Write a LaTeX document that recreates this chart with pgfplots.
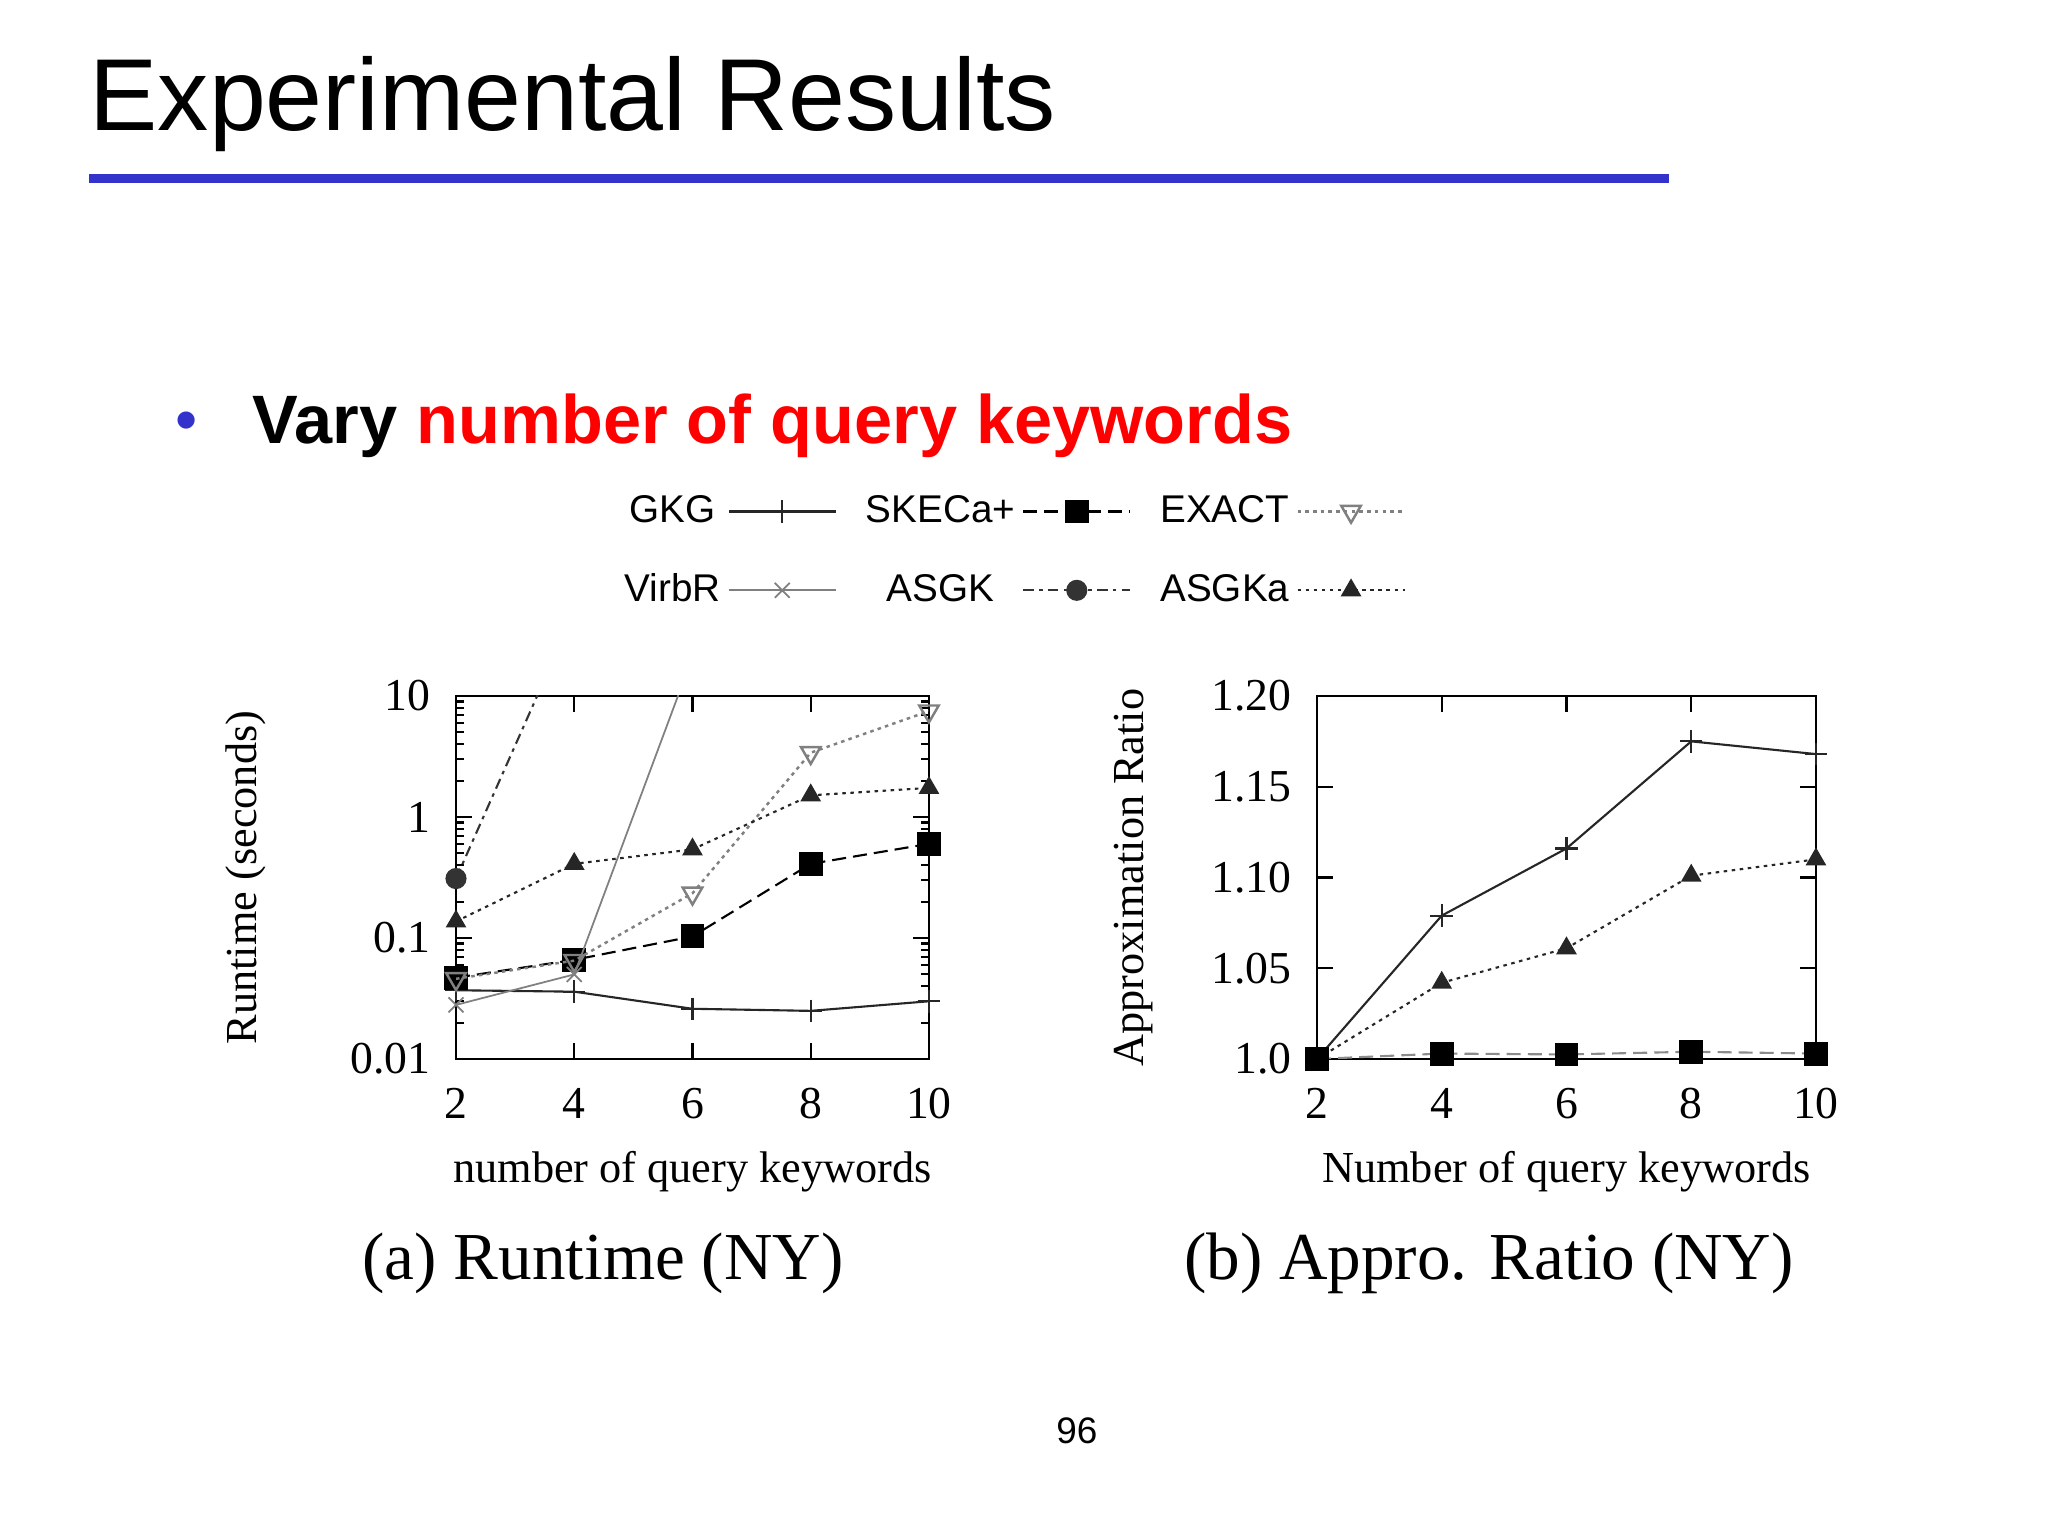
\documentclass[border=0pt]{standalone}
\usepackage{fontspec}
\setmainfont{Liberation Serif}
\newfontfamily\slidefont{Liberation Sans}
\usepackage{pgfplots}
\pgfplotsset{compat=1.18}

\definecolor{ruleblue}{HTML}{3333CC}
\definecolor{slidered}{HTML}{FF0000}

\newcommand\labfont{\fontsize{12.6}{14}\selectfont}

\pgfplotsset{
  slideaxis/.style={
    scale only axis,
    height=36.3mm,
    xmin=2, xmax=10,
    xtick={2,4,6,8,10},
    xticklabels={2,4,6,8,10},
    clip mode=individual,
    axis line style={line width=0.7pt},
    every tick/.style={black, line width=0.6pt},
    major tick length=1.6mm,
    minor tick length=0.8mm,
    tick label style={font=\fontsize{13}{13}\selectfont},
    xticklabel style={yshift=-1.7mm},
    yticklabel style={xshift=-1.3mm},
    every axis x label/.style={at={(axis description cs:0.5,-0.31)}, anchor=center, font=\labfont},
    /pgf/number format/assume math mode=true,
    legend image code/.code={%
      \draw[mark repeat=2,mark phase=2,##1] plot coordinates {(0mm,0mm) (5.35mm,0mm) (10.7mm,0mm)};},
  },
  sGKG/.style={black!85, line width=0.6pt, mark=+, mark size=3.2pt, mark options={solid}},
  sSKE/.style={black, line width=0.6pt, dash pattern=on 4pt off 2pt, mark=square*, mark size=3.1pt, mark options={solid}},
  sEXA/.style={black!50, line width=0.7pt, dash pattern=on 1pt off 1.2pt, mark=triangle, mark size=3.2pt, mark options={solid, rotate=180, fill=white}},
  sVIR/.style={black!50, line width=0.5pt, mark=x, mark size=3pt, mark options={solid}},
  sASG/.style={black!80, line width=0.6pt, dash pattern=on 3pt off 1.5pt on 1pt off 1.5pt, mark=*, mark size=2.7pt, mark options={solid}},
  sASA/.style={black!85, line width=0.6pt, dash pattern=on 1pt off 1.3pt, mark=triangle*, mark size=2.8pt, mark options={solid}},
}

\begin{document}
\begin{tikzpicture}
\fill[white] (0,0) rectangle (204.8mm,-153.6mm);
\path[use as bounding box] (0,0) rectangle (204.8mm,-153.6mm);

% slide title and rule
\node[anchor=base west, inner sep=0pt] at (8.9mm,-13.1mm)
  {\slidefont\fontsize{29.1}{30}\selectfont Experimental Results};
\fill[ruleblue] (8.9mm,-17.4mm) rectangle (166.9mm,-18.3mm);

% bullet line
\node[text=ruleblue, inner sep=0pt] at (18.7mm,-42.7mm)
  {\slidefont\fontsize{18}{20}\selectfont •};
\node[anchor=base west, inner sep=0pt] at (25.2mm,-44.4mm)
  {\slidefont\bfseries\fontsize{19.5}{20}\selectfont Vary \textcolor{slidered}{number of query keywords}};

% (a) runtime
\begin{axis}[
  slideaxis,
  at={(45.6mm,-105.9mm)}, anchor=south west,
  width=47.3mm,
  ymode=log,
  ymin=0.01, ymax=10,
  ytick={0.01,0.1,1,10},
  yticklabels={0.01,0.1,1,10},
  xlabel={number of query keywords},
  ylabel={Runtime (seconds)},
  every axis y label/.style={at={(axis description cs:-0.445,0.5)}, rotate=90, anchor=center, font=\labfont},
  legend columns=3,
  legend plot pos=right,
  legend style={
    at={(axis description cs:1.175,1.399)}, anchor=center,
    draw=none, fill=none,
    font=\slidefont\fontsize{11}{12}\selectfont,
    row sep=3.2mm,
    /tikz/every even column/.append style={column sep=2.2mm},
  },
]
\addplot[sGKG] coordinates {(2,0.037) (4,0.036) (6,0.026) (8,0.025) (10,0.030)};
\addlegendentry{GKG}
\addplot[sSKE] coordinates {(2,0.047) (4,0.066) (6,0.103) (8,0.41) (10,0.60)};
\addlegendentry{SKECa+}
\addplot[sEXA] coordinates {(2,0.046) (4,0.065) (6,0.234) (8,3.4) (10,7.5)};
\addlegendentry{EXACT}
\addplot[sVIR, mark indices={1,2}, legend image post style={mark indices={2}}]
  coordinates {(2,0.028) (4,0.050) (6,21)};
\addlegendentry{VirbR}
\addplot[sASG, mark indices={1}, legend image post style={mark indices={2}}]
  coordinates {(2,0.31) (4,49)};
\addlegendentry{ASGK}
\addplot[sASA] coordinates {(2,0.137) (4,0.41) (6,0.54) (8,1.51) (10,1.74)};
\addlegendentry{ASGKa}
\end{axis}

% (b) approximation ratio
\begin{axis}[
  slideaxis,
  at={(131.7mm,-105.9mm)}, anchor=south west,
  width=49.9mm,
  ymin=1.0, ymax=1.2,
  ytick={1.0,1.05,1.10,1.15,1.20},
  yticklabels={1.0,1.05,1.10,1.15,1.20},
  xlabel={Number of query keywords},
  ylabel={Approximation Ratio},
  every axis y label/.style={at={(axis description cs:-0.367,0.5)}, rotate=90, anchor=center, font=\labfont},
]
\addplot[sGKG] coordinates {(2,1.0) (4,1.079) (6,1.116) (8,1.175) (10,1.168)};
\addplot[sASA] coordinates {(2,1.0) (4,1.042) (6,1.061) (8,1.101) (10,1.110)};
\addplot[sSKE, black!45, mark options={solid, fill=black, draw=black}]
  coordinates {(2,1.0) (4,1.003) (6,1.0025) (8,1.004) (10,1.003)};
\end{axis}

% sub-captions and page number
\node[anchor=base, inner sep=0pt] at (60.3mm,-128.0mm)
  {\fontsize{19.1}{22}\selectfont (a) Runtime (NY)};
\node[anchor=base, inner sep=0pt] at (148.9mm,-128.0mm)
  {\fontsize{19.1}{22}\selectfont (b) Appro. Ratio (NY)};
\node[inner sep=0pt] at (107.7mm,-143.1mm)
  {\slidefont\fontsize{10.5}{12}\selectfont 96};
\end{tikzpicture}
\end{document}
